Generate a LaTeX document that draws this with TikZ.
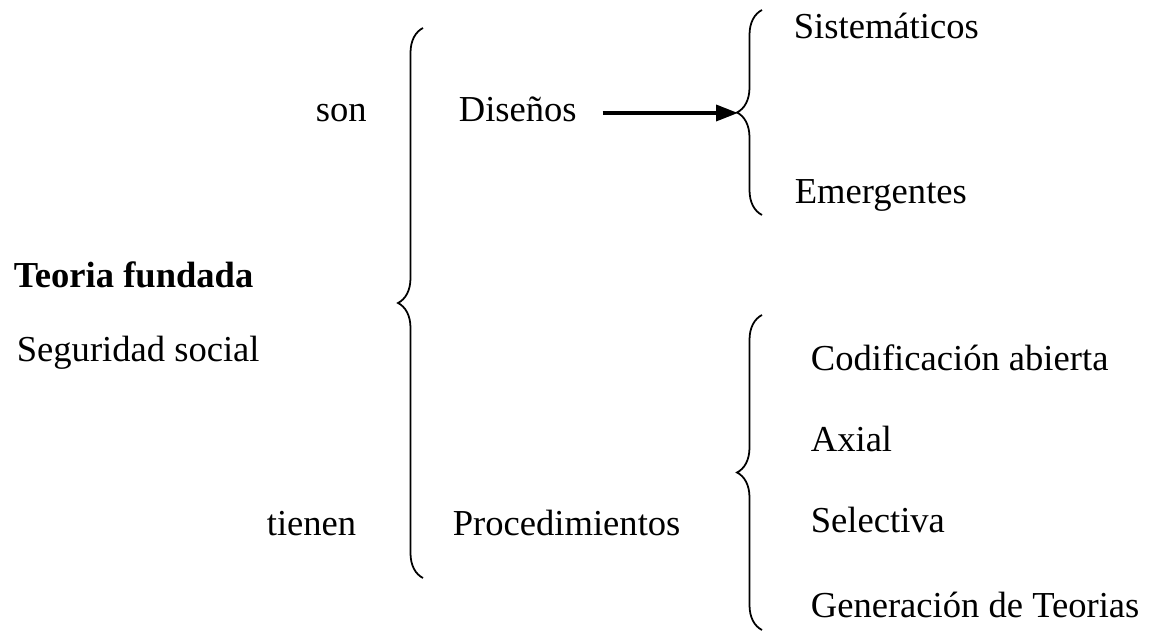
\documentclass[tikz,border=0pt]{standalone}
\usepackage{fontspec}
\setmainfont{Liberation Serif}
\usetikzlibrary{arrows.meta,decorations.pathreplacing}
\begin{document}
\begin{tikzpicture}
[x=0.01cm, y=-0.01cm, font=\fontsize{10.4}{12}\selectfont, line width=0.5pt,
word/.style={anchor=base west, inner sep=0pt},
boldword/.style={anchor=base west, inner sep=0pt, font=\fontsize{10.4}{12}\selectfont\bfseries},
curly/.style={draw, decorate, decoration={brace, amplitude=0.25cm}},
arrowline/.style={draw, line width=1pt, -{Triangle[length=2.2mm, width=1.6mm]}}]

\useasboundingbox (0,0) rectangle (1149,631);

\node[boldword] (teoria) at (13,288) {Teoria fundada};
\node[word] (seguridad) at (16,362) {Seguridad social};

\node[word] (son) at (315,122) {son};
\node[word] (tienen) at (266,535) {tienen};

\draw[curly] (423,578) -- (423,28);

\node[word] (disenos) at (458,122) {Diseños};
\node[word] (procedimientos) at (452,535) {Procedimientos};

\coordinate (tipA) at (738,113);
\draw[curly] (762,215) -- (762,10);
\draw[arrowline, shorten <=0.25cm] (disenos.east |- tipA) -- (tipA);

\node[word] (sistematicos) at (793,39) {Sistemáticos};
\node[word] (emergentes) at (794,204) {Emergentes};

\draw[curly] (762,630) -- (762,315);

\node[word] (codificacion) at (810,371) {Codificación abierta};
\node[word] (axial) at (810,452) {Axial};
\node[word] (selectiva) at (810,533) {Selectiva};
\node[word] (generacion) at (810,617) {Generación de Teorias};
\end{tikzpicture}
\end{document}
